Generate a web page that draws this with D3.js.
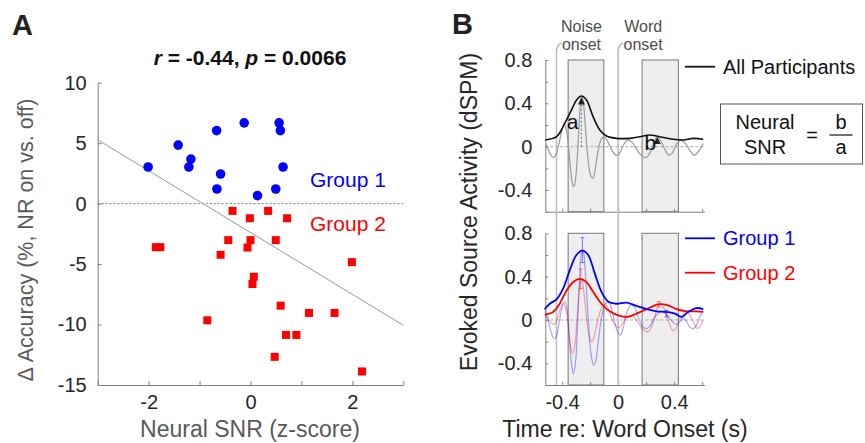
<!DOCTYPE html>
<html>
<head>
<meta charset="utf-8">
<script src="https://cdn.jsdelivr.net/npm/d3@7"></script>
<style>
  body { margin: 0; background: #fff; }
  svg { font-family: "Liberation Sans", Arial, sans-serif; }
</style>
</head>
<body>
<div id="figure"></div>
<script>
// Panel A: neural SNR vs accuracy change
var group1SNR = [-2.01, -1.42, -1.17, -1.21, -0.665, -0.587, -0.659, -0.124, 0.137, 0.561, 0.587, 0.639, 0.496];
var group1Acc = [3.03, 4.84, 3.68, 3.03, 6.04, 2.45, 1.21, 6.68, 0.66, 6.68, 6.04, 3.03, 1.21];
var group2SNR = [-0.352, -0.013, 0.346, 0.718, -0.437, 0, 0.496, -0.059, -1.86, -1.77, -0.587, 1.99,
                 0.065, 0.039, 0.593, 1.148, 1.65, -0.848, 0.698, 0.9, 0.476, 2.19];
var group2Acc = [-0.6, -1.21, -0.6, -1.21, -3.02, -3.02, -3.02, -3.63, -3.6, -3.6, -4.23, -4.84,
                 -6.05, -6.65, -8.44, -9.04, -9.04, -9.65, -10.86, -10.86, -12.67, -13.88];
var fitSNR = [-3, 3];
var fitAcc = [5.28, -10.06];
var snrTicks = [-3, -2, -1, 0, 1, 2, 3];
var accTicks = [-15, -10, -5, 0, 5, 10];

// Panel B: evoked responses
var allEnvT = [-0.52, -0.44, -0.381, -0.333, -0.297, -0.262, -0.226, -0.179, -0.131, -0.083, -0.012,
               0.083, 0.155, 0.226, 0.298, 0.393, 0.464, 0.536, 0.607];
var allEnv = [0.062, 0.092, 0.216, 0.339, 0.431, 0.468, 0.431, 0.277, 0.154, 0.099, 0.077,
              0.077, 0.092, 0.108, 0.092, 0.068, 0.062, 0.077, 0.068];
var allWaveT = [-0.52, -0.5, -0.485, -0.465, -0.45, -0.435, -0.417, -0.4, -0.385, -0.37, -0.355,
                -0.34, -0.325, -0.315, -0.3, -0.285, -0.27, -0.26, -0.25, -0.235, -0.215, -0.195,
                -0.18, -0.165, -0.145, -0.12, -0.1, -0.08, -0.05, -0.025, -0.005, 0.015, 0.04,
                0.07, 0.1, 0.13, 0.165, 0.2, 0.23, 0.255, 0.28, 0.305, 0.335, 0.365, 0.39,
                0.42, 0.45, 0.48, 0.515, 0.545, 0.575, 0.607];
var allWave = [0.03, -0.02, -0.07, -0.1, -0.09, -0.04, 0.06, 0.16, 0.21, 0.16, 0,
               -0.2, -0.35, -0.37, -0.25, 0.05, 0.38, 0.46, 0.42, 0.2, -0.12, -0.27,
               -0.29, -0.22, -0.05, 0.07, 0.09, 0.06, -0.02, -0.07, -0.08, -0.05, 0.02,
               0.06, 0.04, -0.02, -0.08, -0.1, -0.05, 0.04, 0.09, 0.05, -0.03, -0.08, -0.05,
               0.03, 0.06, 0.03, -0.04, -0.08, -0.04, 0.03];

var g1EnvT = [-0.524, -0.488, -0.44, -0.393, -0.345, -0.298, -0.255, -0.214, -0.167, -0.119, -0.071,
              -0.012, 0.06, 0.131, 0.203, 0.274, 0.345, 0.405, 0.452, 0.5, 0.56, 0.607];
var g1Env = [0.099, 0.15, 0.19, 0.29, 0.46, 0.6, 0.64, 0.6, 0.43, 0.26, 0.17,
             0.15, 0.16, 0.13, 0.1, 0.08, 0.074, 0.058, 0.028, 0.074, 0.11, 0.1];
var g2EnvT = [-0.524, -0.464, -0.417, -0.369, -0.321, -0.274, -0.226, -0.179, -0.119, -0.06, 0.012,
              0.071, 0.131, 0.203, 0.286, 0.345, 0.417, 0.488, 0.56, 0.607];
var g2Env = [0.049, 0.074, 0.15, 0.27, 0.35, 0.38, 0.35, 0.26, 0.15, 0.08, 0.037,
             0.03, 0.058, 0.1, 0.145, 0.14, 0.1, 0.08, 0.08, 0.074];
var g1WaveT = [-0.524, -0.505, -0.485, -0.465, -0.45, -0.435, -0.415, -0.395, -0.38, -0.365, -0.35,
               -0.335, -0.32, -0.305, -0.29, -0.275, -0.26, -0.25, -0.235, -0.215, -0.195, -0.175,
               -0.16, -0.14, -0.115, -0.09, -0.07, -0.05, -0.025, 0, 0.015, 0.035, 0.06,
               0.09, 0.115, 0.145, 0.175, 0.205, 0.235, 0.27, 0.31, 0.34, 0.37, 0.4,
               0.42, 0.445, 0.465, 0.49, 0.515, 0.54, 0.565, 0.59, 0.607];
var g1Wave = [0.1, 0.03, -0.08, -0.16, -0.17, -0.12, 0.02, 0.14, 0.17, 0.1, -0.12,
              -0.38, -0.5, -0.4, -0.05, 0.38, 0.62, 0.63, 0.45, 0.05, -0.3, -0.42,
              -0.38, -0.18, 0.05, 0.15, 0.17, 0.12, -0.02, -0.12, -0.14, -0.08, 0.06,
              0.14, 0.12, 0.02, -0.06, -0.08, -0.04, 0.04, 0.08, 0.06, 0.01, -0.03,
              -0.04, -0.01, 0.02, -0.02, -0.07, -0.08, -0.03, 0.05, 0.08];
var g2WaveT = [-0.524, -0.5, -0.475, -0.455, -0.435, -0.41, -0.39, -0.37, -0.355, -0.34, -0.325,
               -0.31, -0.295, -0.28, -0.267, -0.255, -0.24, -0.22, -0.2, -0.185, -0.165, -0.14,
               -0.115, -0.095, -0.075, -0.05, -0.025, 0, 0.025, 0.055, 0.083, 0.11, 0.145,
               0.18, 0.214, 0.24, 0.265, 0.29, 0.305, 0.325, 0.355, 0.38, 0.395, 0.415,
               0.445, 0.475, 0.49, 0.51, 0.54, 0.565, 0.585, 0.607];
var g2Wave = [0.04, 0.01, -0.03, -0.04, 0.01, 0.11, 0.15, 0.08, -0.08, -0.24, -0.31,
              -0.24, -0.02, 0.24, 0.38, 0.35, 0.2, -0.04, -0.18, -0.2, -0.12, 0.03,
              0.12, 0.15, 0.12, 0.03, -0.04, -0.07, -0.05, 0.02, 0.04, 0.03, -0.03,
              -0.09, -0.11, -0.06, 0.05, 0.14, 0.15, 0.11, 0, -0.08, -0.1, -0.07,
              0.02, 0.07, 0.08, 0.05, -0.03, -0.08, -0.06, 0];
var g1ErrT = [-0.255, 0.345], g1ErrLo = [0.53, 0.03], g1ErrHi = [0.76, 0.09];
var g2ErrT = [-0.267, 0.29], g2ErrLo = [0.29, 0.12], g2ErrHi = [0.47, 0.17];
var onsets = [-0.44, 0];
var onsetNames = [["Noise", "onset"], ["Word", "onset"]];
var windowStart = [-0.357, 0.171], windowEnd = [-0.102, 0.43];
var timeTicks = [-0.4, -0.2, 0, 0.2, 0.4, 0.6];
var timeLabels = [-0.4, 0, 0.4];
var ampTicks = [-0.6, -0.4, -0.2, 0, 0.2, 0.4, 0.6, 0.8];
var ampLabels = [-0.4, 0, 0.4, 0.8];

var axisGray = "#808080", textDark = "#262626";

var svg = d3.select("#figure")
    .append("svg")
    .attr("width", 865)
    .attr("height", 443);

function styleAxis(g) {
    g.select(".domain").attr("stroke", axisGray);
    g.selectAll(".tick line").attr("stroke", axisGray);
    g.selectAll(".tick text").attr("fill", textDark).style("font-size", "20px");
}

// ---------------- Panel A ----------------
var xA = d3.scaleLinear().domain([-3, 3]).range([97.7, 403.3]);
var yA = d3.scaleLinear().domain([-15, 10]).range([385, 82.7]);

svg.append("text").attr("x", 12).attr("y", 35)
    .style("font-size", "29px").style("font-weight", "bold").attr("fill", "#222").text("A");

svg.append("g")
    .attr("transform", "translate(0," + yA(-15) + ")")
    .call(d3.axisBottom(xA).tickValues(snrTicks).tickSizeInner(-4).tickSizeOuter(0).tickPadding(10)
        .tickFormat(function (d) { return (d === -2 || d === 0 || d === 2) ? String(d) : ""; }))
    .call(styleAxis);

svg.append("g")
    .attr("transform", "translate(" + xA(-3) + ",0)")
    .call(d3.axisLeft(yA).tickValues(accTicks).tickSizeInner(-4).tickSizeOuter(0).tickPadding(11)
        .tickFormat(function (d) { return String(d); }))
    .call(styleAxis);

svg.append("line")
    .attr("x1", xA(-3)).attr("x2", xA(3))
    .attr("y1", yA(0)).attr("y2", yA(0))
    .attr("stroke", "#555").attr("stroke-width", 0.8).attr("stroke-dasharray", "2,2");

svg.append("line")
    .attr("x1", xA(fitSNR[0])).attr("y1", yA(fitAcc[0]))
    .attr("x2", xA(fitSNR[1])).attr("y2", yA(fitAcc[1]))
    .attr("stroke", "#999").attr("stroke-width", 1);

svg.selectAll("circle.g1")
    .data(group1SNR)
    .enter()
    .append("circle")
    .attr("class", "g1")
    .attr("cx", function (d) { return xA(d); })
    .attr("cy", function (d, i) { return yA(group1Acc[i]); })
    .attr("r", 4.8)
    .attr("fill", "#0000ff");

svg.selectAll("rect.g2")
    .data(group2SNR)
    .enter()
    .append("rect")
    .attr("class", "g2")
    .attr("x", function (d) { return xA(d) - 4; })
    .attr("y", function (d, i) { return yA(group2Acc[i]) - 4; })
    .attr("width", 8)
    .attr("height", 8)
    .attr("fill", "#ff0000");

var title = svg.append("text").attr("x", 250).attr("y", 65).attr("text-anchor", "middle")
    .style("font-size", "21px").style("font-weight", "bold").attr("fill", "#111");
title.append("tspan").style("font-style", "italic").text("r");
title.append("tspan").text(" = -0.44, ");
title.append("tspan").style("font-style", "italic").text("p");
title.append("tspan").text(" = 0.0066");

svg.append("text").attr("x", 310).attr("y", 187)
    .style("font-size", "21px").attr("fill", "#0000ff").text("Group 1");
svg.append("text").attr("x", 310).attr("y", 231)
    .style("font-size", "21px").attr("fill", "#ff0000").text("Group 2");

svg.append("text")
    .attr("transform", "translate(33,240) rotate(-90)")
    .attr("text-anchor", "middle")
    .style("font-size", "21.5px").attr("fill", "#595959")
    .text("\u0394 Accuracy (%, NR on vs. off)");

svg.append("text").attr("x", 250).attr("y", 437).attr("text-anchor", "middle")
    .style("font-size", "23px").attr("fill", "#595959").text("Neural SNR (z-score)");

// ---------------- Panel B ----------------
var xB = d3.scaleLinear().domain([-0.52, 0.615]).range([545.3, 704.3]);
var yTop = d3.scaleLinear().domain([-0.6, 0.8]).range([211.7, 60]);
var yBot = d3.scaleLinear().domain([-0.6, 0.8]).range([385, 233.3]);

svg.append("text").attr("x", 452).attr("y", 34)
    .style("font-size", "29px").style("font-weight", "bold").attr("fill", "#222").text("B");

function drawFrame(y, showLabels) {
    var g = svg.append("g");
    g.selectAll("rect.win")
        .data(windowStart)
        .enter()
        .append("rect")
        .attr("class", "win")
        .attr("x", function (d) { return xB(d); })
        .attr("y", y(0.8))
        .attr("width", function (d, i) { return xB(windowEnd[i]) - xB(d); })
        .attr("height", y(-0.6) - y(0.8))
        .attr("fill", "#eeeeee")
        .attr("stroke", "#777")
        .attr("stroke-width", 1);
    g.append("line")
        .attr("x1", xB(-0.52)).attr("x2", xB(0.615))
        .attr("y1", y(0)).attr("y2", y(0))
        .attr("stroke", "#aaa").attr("stroke-width", 1).attr("stroke-dasharray", "3,2");
    g.append("g")
        .attr("transform", "translate(0," + y(-0.6) + ")")
        .call(d3.axisBottom(xB).tickValues(timeTicks).tickSizeInner(-3).tickSizeOuter(0).tickPadding(10)
            .tickFormat(function (d) {
                if (!showLabels) return "";
                return timeLabels.some(function (v) { return Math.abs(v - d) < 1e-9; }) ? String(d) : "";
            }))
        .call(styleAxis);
    g.append("g")
        .attr("transform", "translate(" + xB(-0.52) + ",0)")
        .call(d3.axisLeft(y).tickValues(ampTicks).tickSizeInner(-3).tickSizeOuter(0).tickPadding(13)
            .tickFormat(function (d) {
                return ampLabels.some(function (v) { return Math.abs(v - d) < 1e-9; }) ? String(d) : "";
            }))
        .call(styleAxis);
}

drawFrame(yTop, false);
drawFrame(yBot, true);

// onset lines run through both panels
onsets.forEach(function (t, i) {
    var x = xB(t);
    svg.append("path")
        .attr("d", "M" + x + "," + yBot(-0.6) + " L" + x + ",52 Q" + x + ",45 " + (x + 5) + ",43")
        .attr("fill", "none").attr("stroke", "#bbb").attr("stroke-width", 1.5);
    var lab = svg.append("text").attr("text-anchor", "middle")
        .style("font-size", "16px").attr("fill", "#4d4d4d");
    lab.append("tspan").attr("x", x + 25).attr("y", 32).text(onsetNames[i][0]);
    lab.append("tspan").attr("x", x + 25).attr("y", 50).text(onsetNames[i][1]);
});

function curve(ts, vs, y) {
    return d3.line()
        .x(function (d) { return xB(d); })
        .y(function (d, i) { return y(vs[i]); })
        .curve(d3.curveCatmullRom.alpha(0.5))(ts);
}

// top: all participants
svg.append("path").attr("d", curve(allWaveT, allWave, yTop))
    .attr("fill", "none").attr("stroke", "#9a9a9a").attr("stroke-width", 1.2);
svg.append("path").attr("d", curve(allEnvT, allEnv, yTop))
    .attr("fill", "none").attr("stroke", "#111").attr("stroke-width", 1.6);

svg.append("line")
    .attr("x1", xB(-0.262)).attr("x2", xB(-0.262))
    .attr("y1", yTop(0)).attr("y2", yTop(0.42))
    .attr("stroke", "#888").attr("stroke-width", 1.3).attr("stroke-dasharray", "2,2");

function arrowHead(t, v, y) {
    var x = xB(t), yy = y(v);
    svg.append("path")
        .attr("d", "M" + x + "," + yy + " L" + (x - 3.5) + "," + (yy + 7) + " L" + (x + 3.5) + "," + (yy + 7) + " Z")
        .attr("fill", "#222");
}
arrowHead(-0.262, 0.455, yTop);
arrowHead(0.279, 0.09, yTop);

svg.append("text").attr("x", xB(-0.325)).attr("y", 129).attr("text-anchor", "middle")
    .style("font-size", "21px").attr("fill", "#111").text("a");
svg.append("text").attr("x", xB(0.23)).attr("y", 150).attr("text-anchor", "middle")
    .style("font-size", "21px").attr("fill", "#111").text("b");

// bottom: groups
svg.append("path").attr("d", curve(g2WaveT, g2Wave, yBot))
    .attr("fill", "none").attr("stroke", "rgba(255,0,0,0.35)").attr("stroke-width", 1.2);
svg.append("path").attr("d", curve(g1WaveT, g1Wave, yBot))
    .attr("fill", "none").attr("stroke", "rgba(0,0,255,0.35)").attr("stroke-width", 1.2);

function errorBars(ts, lo, hi, color) {
    ts.forEach(function (t, i) {
        var x = xB(t);
        svg.append("line").attr("x1", x).attr("x2", x).attr("y1", yBot(lo[i])).attr("y2", yBot(hi[i]))
            .attr("stroke", color).attr("stroke-width", 1);
        [lo[i], hi[i]].forEach(function (v) {
            svg.append("line").attr("x1", x - 2).attr("x2", x + 2).attr("y1", yBot(v)).attr("y2", yBot(v))
                .attr("stroke", color).attr("stroke-width", 1);
        });
    });
}
errorBars(g1ErrT, g1ErrLo, g1ErrHi, "rgba(0,0,255,0.5)");
errorBars(g2ErrT, g2ErrLo, g2ErrHi, "rgba(255,0,0,0.5)");

svg.append("path").attr("d", curve(g2EnvT, g2Env, yBot))
    .attr("fill", "none").attr("stroke", "#ff0000").attr("stroke-width", 1.8);
svg.append("path").attr("d", curve(g1EnvT, g1Env, yBot))
    .attr("fill", "none").attr("stroke", "#0000ff").attr("stroke-width", 1.8);

// legends
var legend = [
    { y: 66.7, color: "#111", label: "All Participants", text: "#111" },
    { y: 238.3, color: "#0000ff", label: "Group 1", text: "#0000ff" },
    { y: 272.7, color: "#ff0000", label: "Group 2", text: "#ff0000" }
];
legend.forEach(function (d) {
    svg.append("line").attr("x1", 685).attr("x2", 715).attr("y1", d.y).attr("y2", d.y)
        .attr("stroke", d.color).attr("stroke-width", 1.8);
    svg.append("text").attr("x", 723).attr("y", d.y + 7)
        .style("font-size", "20px").attr("fill", d.text).text(d.label);
});

// Neural SNR = b / a box
svg.append("rect").attr("x", 720.5).attr("y", 104).attr("width", 142).attr("height", 60)
    .attr("fill", "none").attr("stroke", "#555").attr("stroke-width", 1);
var box = svg.append("g").style("font-size", "20px").attr("fill", "#111");
box.append("text").attr("x", 765).attr("y", 128.5).attr("text-anchor", "middle").text("Neural");
box.append("text").attr("x", 765).attr("y", 153.5).attr("text-anchor", "middle").text("SNR");
box.append("text").attr("x", 812).attr("y", 142).attr("text-anchor", "middle").text("=");
box.append("text").attr("x", 841).attr("y", 128.5).attr("text-anchor", "middle").text("b");
box.append("text").attr("x", 841).attr("y", 154).attr("text-anchor", "middle").text("a");
svg.append("line").attr("x1", 829.5).attr("x2", 852.5).attr("y1", 135).attr("y2", 135)
    .attr("stroke", "#111").attr("stroke-width", 1.2);

// axis titles
svg.append("text")
    .attr("transform", "translate(477,212) rotate(-90)")
    .attr("text-anchor", "middle")
    .style("font-size", "23px").attr("fill", textDark)
    .text("Evoked Source Activity (dSPM)");
svg.append("text").attr("x", 625).attr("y", 437).attr("text-anchor", "middle")
    .style("font-size", "23px").attr("fill", textDark).text("Time re: Word Onset (s)");
</script>
</body>
</html>
